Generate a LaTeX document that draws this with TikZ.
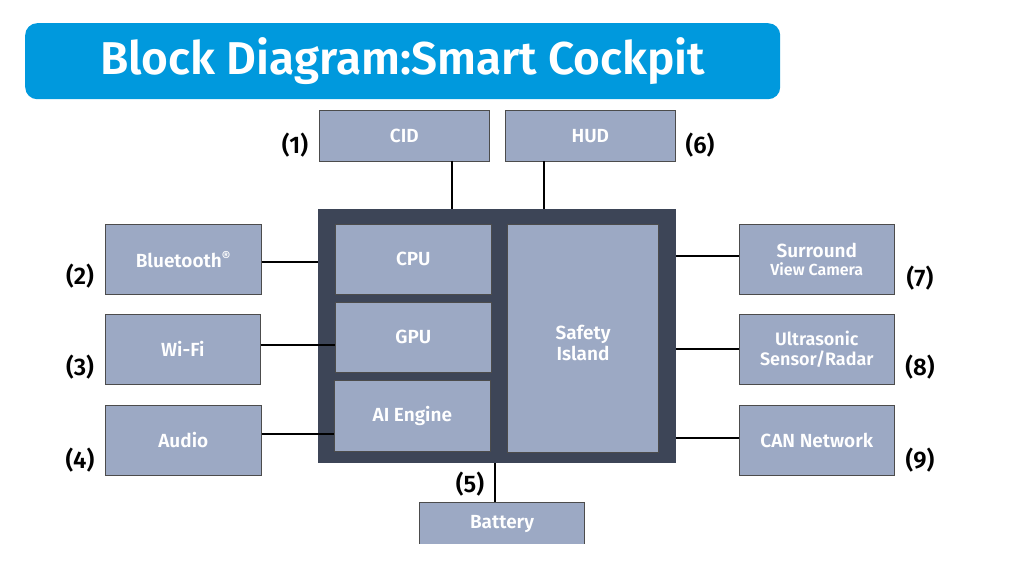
\documentclass[tikz,border=0pt]{standalone}
\usepackage{fontspec}
\setmainfont{Fira Sans}[UprightFont=* Medium,BoldFont=* SemiBold]
\begin{document}
\begin{tikzpicture}[x=1pt,y=-1pt,
  blk/.style={draw=black!70,line width=0.6pt,fill=boxc,text=white,font=\bfseries\fontsize{19}{21}\selectfont,align=center,inner sep=0pt},
  lbl/.style={font=\bfseries\fontsize{24}{24}\selectfont,text=black},
  wire/.style={line width=1.6pt,black}]
\definecolor{boxc}{HTML}{9CA9C4}
\definecolor{darkc}{HTML}{3D4557}
\definecolor{titlec}{HTML}{0099DD}
\useasboundingbox (0,0) rectangle (1012,569);
\fill[white] (0,0) rectangle (1012,569);
\node[fill=titlec,rounded corners=12pt,minimum width=755pt,minimum height=76pt,anchor=north west,text=white,font=\bfseries\fontsize{46}{46}\selectfont,inner sep=0pt] (title) at (25,23) {Block Diagram:Smart Cockpit};
\node[fill=darkc,minimum width=358pt,minimum height=254pt,anchor=north west,inner sep=0pt] (soc) at (318,209) {};
\node[blk,minimum width=156pt,minimum height=70pt,anchor=north west] (cpu) at (335,224) {CPU};
\node[blk,minimum width=156pt,minimum height=70pt,anchor=north west] (gpu) at (335,302) {GPU};
\node[blk,minimum width=156pt,minimum height=71pt,anchor=north west] (ai) at (334,380) {AI Engine};
\node[blk,minimum width=151pt,minimum height=228pt,anchor=north west] (safe) at (507,224) {};
\node[text=white,font=\bfseries\fontsize{19}{21}\selectfont,align=center] (safet) at (583,343) {Safety\\Island};
\node[blk,minimum width=170pt,minimum height=51pt,anchor=north west] (cid) at (319,110) {CID};
\node[blk,minimum width=170pt,minimum height=51pt,anchor=north west] (hud) at (505,110) {HUD};
\node[blk,minimum width=156pt,minimum height=70pt,anchor=north west] (bt) at (105,224) {Bluetooth\textsuperscript{®}};
\node[blk,minimum width=155pt,minimum height=70pt,anchor=north west] (wifi) at (105,314) {Wi-Fi};
\node[blk,minimum width=156pt,minimum height=70pt,anchor=north west] (audio) at (105,405) {Audio};
\node[blk,minimum width=155pt,minimum height=70pt,anchor=north west] (sur) at (739,224) {Surround\\[-3pt]{\fontsize{16}{17}\selectfont View Camera}};
\node[blk,minimum width=155pt,minimum height=70pt,anchor=north west,font=\bfseries\fontsize{18}{20}\selectfont] (ult) at (739,314) {Ultrasonic\\Sensor/Radar};
\node[blk,minimum width=155pt,minimum height=70pt,anchor=north west] (can) at (739,405) {CAN Network};
\begin{scope}
\clip (0,0) rectangle (1012,543);
\node[blk,minimum width=165pt,minimum height=60pt,anchor=north west] (bat) at (419,502) {};
\end{scope}
\node[text=white,font=\bfseries\fontsize{19}{21}\selectfont] (batt) at (502,524) {Battery};
\coordinate (c1) at (452,161); \coordinate (c1b) at (452,209);
\coordinate (h1) at (544,161); \coordinate (h1b) at (544,209);
\draw[wire] (c1) -- (c1b);
\draw[wire] (h1) -- (h1b);
\draw[wire] (bt.east |- 0,262) -- (soc.west |- 0,262);
\draw[wire] (wifi.east |- 0,345) -- (gpu.west |- 0,345);
\draw[wire] (audio.east |- 0,434) -- (ai.west |- 0,434);
\draw[wire] (soc.east |- 0,256) -- (sur.west |- 0,256);
\draw[wire] (soc.east |- 0,349) -- (ult.west |- 0,349);
\draw[wire] (soc.east |- 0,438) -- (can.west |- 0,438);
\draw[wire] (495,463) -- (bat.north -| 495,0);
\node[lbl] (l1) at (295,145) {(1)};
\node[lbl] (l6) at (700,145) {(6)};
\node[lbl] (l2) at (80,276) {(2)};
\node[lbl] (l3) at (80,367) {(3)};
\node[lbl] (l4) at (80,460) {(4)};
\node[lbl] (l5) at (470,484) {(5)};
\node[lbl] (l7) at (920,278) {(7)};
\node[lbl] (l8) at (920,367) {(8)};
\node[lbl] (l9) at (920,460) {(9)};
\end{tikzpicture}
\end{document}
